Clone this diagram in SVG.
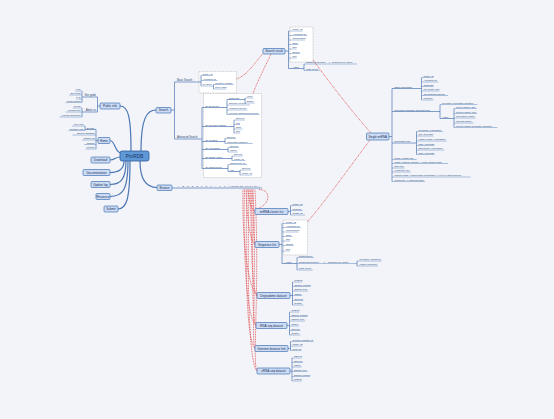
<svg xmlns="http://www.w3.org/2000/svg" width="554" height="419" viewBox="0 0 554 419">
<style>
.bg{fill:#f3f4f9}
.n rect{fill:#cddcf3;stroke:#4373b5;stroke-width:.7}
.n text{font-family:"Liberation Sans",Arial,sans-serif;font-size:3px;fill:#1a3262;text-anchor:middle}
.c rect{fill:#5e98d6;stroke:#2e5d9a;stroke-width:.8}
.c text{font-size:4.6px}
text{font-family:"Liberation Sans",Arial,sans-serif;font-size:2.3px;fill:#223f6e}
.r{text-anchor:end}
.p{font-size:2.6px}
.m{fill:none;stroke:#4a76b3;stroke-width:1.2}
.s{fill:none;stroke:#4a76b3;stroke-width:.7}
.u{fill:none;stroke:#5f87c0;stroke-width:.5}
.red{fill:none;stroke:#de4545;stroke-width:.75;stroke-dasharray:1 .7}
.box{fill:#fff;stroke:#a0a0a0;stroke-width:.45;stroke-dasharray:1 .6}
</style>
<rect class="bg" x="0" y="0" width="554" height="419"/>
<g id="dotted-boxes">
<rect class="box" x="199" y="71.5" width="37.5" height="21.5"/>
<rect class="box" x="203.5" y="93.5" width="58" height="84"/>
<rect class="box" x="290" y="27" width="23" height="35"/>
<rect class="box" x="283.5" y="220" width="24" height="35"/>
</g>
<g id="connectors">
<path class="m" d="M131,151C131,116 128,106 120,106M121,153C115,153 115,140.5 110,140.5M120,157C115,157 115,160 110,160M124,161C124,169 119,172.5 110,172.5M126,161C126,180 120,184.5 110,184.5M128,161C128,191 122,196.5 110,196.5M130,161C130,201 126,209 118,209M141,151C141,118 147,110 156,110M140,161C140,180 147,187.5 157,187.5"/>
<path class="s" d="M100,106H97.5M97.5,97V112M97.5,97H82M82,91V102.5M97.5,112H82M82,108V117"/>
<path class="u" d="M82,91H75.2M82,95H69.2M82,99H76.4M82,102.5H65.6M82,108H72.8M82,112H65.6M82,117H59.6"/>
<path class="s" d="M98,140.5H96M96,129.5V149M96,129.5H85M85,126V130.5"/>
<path class="u" d="M96,135H72.4M96,140H82M96,144.5H84.4M96,149H85.6M85,126H72.2M85,130.5H68.6"/>
<path class="s" d="M171,110H174.5M174.5,82V139M174.5,82H201M201,75.5V86M213.5,84.5V89M174.5,139H202M202,107.5V168.5"/>
<path class="u" d="M201,75.5H212.6M201,80.5H217.4M201,86H213.5M213.5,84.5H233.5M213.5,89H226.3"/>
<path class="s" d="M202,107.5H227M227,99.5V114.5M227,99.5H245M245,98V103M202,126.5H234M234,120V133M202,141.5H225M225,138.5V143.5M202,149.5H228M228,147.5V152M202,158.5H232M232,156V160.5M202,168.5H228M228,164.5V171.5M228,171.5H240M240,170V175"/>
<path class="u" d="M245,98H253.5M245,103H254.7M227,105H249.9M227,110H247.5M227,114.5H259.5M234,120H244.9M234,124.5H240.1M234,129H242.5M234,133H240.1M225,138.5H235.9M225,143.5H252.7M228,147.5H238.9M228,152H237.7M232,156H242.9M232,160.5H245.3M228,164.5H247.3M240,170H250.9M240,175H252.1"/>
<path class="s" d="M285,51H288.5M288.5,31V68.5M288.5,68.5H304M304,64V70.5"/>
<path class="u" d="M288.5,31H302.6M288.5,35.5H307.4M288.5,40H305M288.5,44.5H298.5M288.5,49H296.6M288.5,53.5H300.2M288.5,58H296.6M304,64H357M304,70.5H319.7"/>
<path class="s" d="M389,136.5H392M392,88.5V181.5M392,88.5H421.5M421.5,77.5V100M392,111.5H440M440,104.5V118.5M440,118.5H454M454,108.5V127.5M392,143H416.5M416.5,131.5V154.5"/>
<path class="u" d="M421.5,77.5H433.6M421.5,82H438.4M421.5,86.5H433.6M421.5,91H439.6M421.5,95.5H448M421.5,100H433.6M440,104.5H477.3M454,108.5H476.9M454,113.5H476.9M454,118H475.7M454,123H473.3M454,127.5H497.3M416.5,131.5H443M416.5,136H433.4M416.5,141H446.6M416.5,145.5H434.6M416.5,150H444.2M416.5,154.5H434.6M392,159.5H416.6M392,163.5H448M392,168H404.6M392,172H410.6M392,177H470.6M392,181.5H425"/>
<path class="s" d="M172,188H262"/>
<path class="s" d="M288,211.5H290.5M290.5,205.5V215M279,244.5H282M282,223.5V263.5M282,263.5H297M297,257.5V270M357,261V266M290,295.5H292.5M292.5,282V305M287,325.5H289.5M289.5,312V335M288,348.5H290.5M290.5,341.5V350.5M290,371H292M292,358V381"/>
<path class="u" d="M290.5,205.5H302.6M290.5,210.5H302.6M290.5,215H305M282,223.5H296.1M282,227.5H300.9M282,232H298.5M282,236.5H292.5M282,241H290.1M282,245.5H293.7M282,251H290.1M297,257.5H313.9M297,263.5H357M297,270H312.7M357,261H381.6M357,266H378M292.5,282H302.2M292.5,286.5H310.6M292.5,291H308.2M292.5,295.5H302.2M292.5,300.5H303.4M292.5,305H303.4M289.5,312H299.2M289.5,316.5H307.6M289.5,321H305.2M289.5,326H299.2M289.5,330.5H300.4M289.5,335H300.4M290.5,341.5H313.4M290.5,346H302.6M290.5,350.5H301.4M292,358H301.7M292,362.5H302.9M292,367H301.7M292,371.5H307.7M292,376.5H310.1M292,381H301.7"/>
<path class="red" d="M236.5,79C248,75 255,62 264,52.5M253,93.5C258,80 266,65 271,54M313,60C335,90 355,115 371,133M307.5,222C330,195 355,160 370,140"/>
<path class="red" d="M259,189.5C272,190 270,204 258,208.5M248,189.5C249,200 250,208 255,211.5M246,189.5C247,215 249,238 255,244.5M252,189.5C254,215 253,238 255,244.5M243,189.5C242,240 248,288 257,295.5M250,189.5C252,240 251,288 257,295.5M244.5,189.5C243,260 247,318 256,325.5M251,189.5C254,260 251,318 256,325.5M247,189.5C245,280 247,340 255,348.5M253,189.5C257,280 251,340 255,348.5M249,189.5C247,290 249,362 257,371M255,189.5C260,290 252,362 257,371"/>
</g>
<g id="center" class="n c"><rect x="120" y="151" width="29" height="10" rx="2"/><text x="134.5" y="157.7">PmiRDB</text></g>
<g id="public-info">
<g class="n"><rect x="100" y="103" width="20" height="6" rx="1"/><text x="110" y="107.1">Public info</text></g>
<text class="r p" x="96" y="96.4">Site guide</text>
<text class="r" x="80.5" y="90.4">Help</text><text class="r" x="80.5" y="94.4">Bio terms</text><text class="r" x="80.5" y="98.4">FAQ</text><text class="r" x="80.5" y="101.9">Quick search</text>
<text class="r p" x="96" y="111.4">About us</text>
<text class="r" x="80.5" y="107.4">E-mail</text><text class="r" x="80.5" y="111.4">Contact info</text><text class="r" x="80.5" y="116.4">License statement</text>
</g>
<g id="home">
<g class="n"><rect x="98" y="137.5" width="12" height="6" rx="1"/><text x="104" y="141.6">Home</text></g>
<text class="r" x="94.5" y="128.9">Browse</text>
<text class="r" x="83.5" y="125.4">Text view</text><text class="r" x="83.5" y="129.9">Network view</text>
<text class="r" x="94.5" y="134.4">Species statistics</text><text class="r" x="94.5" y="139.4">Update log</text><text class="r" x="94.5" y="143.9">Citation</text><text class="r" x="94.5" y="148.4">License</text>
</g>
<g id="download" class="n"><rect x="91" y="157" width="19" height="6" rx="1"/><text x="100.5" y="161.1">Download</text></g>
<g id="documentation" class="n"><rect x="83" y="169.5" width="27" height="6" rx="1"/><text x="96.5" y="173.6">Documentation</text></g>
<g id="update-log" class="n"><rect x="91" y="181.5" width="19" height="6" rx="1"/><text x="100.5" y="185.6">Update log</text></g>
<g id="resource" class="n"><rect x="96" y="193.5" width="14" height="6" rx="1"/><text x="103" y="197.6">Resource</text></g>
<g id="submit" class="n"><rect x="104" y="206" width="14" height="6" rx="1"/><text x="111" y="210.1">Submit</text></g>
<g id="search">
<g class="n"><rect x="156" y="107.5" width="15" height="5.5" rx="1"/><text x="163.5" y="111.3">Search</text></g>
<text class="p" x="177" y="81.3">Basic Search</text>
<text x="202.5" y="74.9">miRNA ID</text><text x="202.5" y="79.9">Accession ID</text><text x="202.5" y="85.4">Keyword</text>
<text x="215" y="83.9">Genome location</text><text x="215" y="88.4">Gene name</text>
<text class="p" x="177" y="138.3">Advanced Search</text>
<text x="205.5" y="106.9">By Sequence</text>
<text x="229" y="98.9">Sequence</text><text x="247" y="97.4">Input</text><text x="247" y="102.4">Blastn</text>
<text x="229" y="104.4">Similarity search</text><text x="229" y="109.4">Fragment search</text><text x="229" y="113.9">Reverse complement search</text>
<text x="205.5" y="125.9">By genomic location</text>
<text x="236" y="119.4">Species</text><text x="236" y="123.9">Chr</text><text x="236" y="128.4">Start</text><text x="236" y="132.4">End</text>
<text x="205.5" y="140.9">By Clusters</text>
<text x="227" y="137.9">Species</text><text x="227" y="142.9">Intercluster distance</text>
<text x="205.5" y="148.9">By expression</text>
<text x="230" y="146.9">Species</text><text x="230" y="151.4">Tissue</text>
<text x="205.5" y="157.9">By miRNA family</text>
<text x="234" y="155.4">Species</text><text x="234" y="159.9">Family ID</text>
<text x="205.5" y="167.9">By target genes</text>
<text x="230" y="163.9">Target gene ID</text><text x="230" y="170.9">List</text>
<text x="242" y="169.4">Species</text><text x="242" y="174.4">miRNA ID</text>
</g>
<g id="search-result">
<g class="n"><rect x="263" y="48.5" width="22" height="5.5" rx="1"/><text x="274" y="52.3">Search result</text></g>
<text x="292.5" y="30.4">miRNA ID</text><text x="292.5" y="34.9">Accession ID</text><text x="292.5" y="39.4">Chromosome</text><text x="292.5" y="43.9">Start</text><text x="292.5" y="48.4">End</text><text x="292.5" y="52.9">Strand</text><text x="292.5" y="57.4">Seq</text>
<text x="292.5" y="67.9">Action</text>
<text x="306" y="63.4">Download selected</text><text x="328" y="63.4">→</text><text x="332" y="63.4">sequence file action</text>
<text x="306" y="69.9">Page select</text>
</g>
<g id="single-mirna">
<g class="n"><rect x="366.5" y="133" width="22.5" height="7" rx="1"/><text x="377.75" y="137.6">Single miRNA</text></g>
<text x="394.5" y="87.9">Basic information</text>
<text x="423.5" y="76.9">miRNA ID</text><text x="423.5" y="81.4">Accession ID</text><text x="423.5" y="85.9">Organism</text><text x="423.5" y="90.4">Pre-miRNA seq</text><text x="423.5" y="94.9">Chr Start End Strand</text><text x="423.5" y="99.4">Location</text>
<text x="394.5" y="110.9">Secondary structure and sequence</text>
<text x="442" y="103.9">Pri-miRNA secondary structure</text><text x="442" y="117.9">Action</text>
<text x="456" y="107.9">Get pri-miRNA seq</text><text x="456" y="112.9">Get pre-miRNA seq</text><text x="456" y="117.4">Get mature miRNA</text><text x="456" y="122.4">Get star miRNA</text><text x="456" y="126.9">Get the mature secondary structure</text>
<text x="394.5" y="142.4">Expression info</text>
<text x="418.5" y="130.9">Pri-miRNA expression</text><text x="418.5" y="135.4">RNA-seq data</text><text x="418.5" y="140.4">Mature miRNA expression</text><text x="418.5" y="144.9">sRNA-seq data</text><text x="418.5" y="149.4">Star miRNA expression</text><text x="418.5" y="153.9">sRNA-seq data</text>
<text x="394.5" y="158.9">miRNA cluster info</text>
<text x="394.5" y="162.9">miRNA isoform (isomiR) → other isomiR result</text>
<text x="394.5" y="167.4">SNP info</text>
<text x="394.5" y="171.4">Homology info</text>
<text x="394.5" y="176.4">Natural miRNA conservation information → Level in other species</text>
<text x="394.5" y="180.9">Reference → PubMed result</text>
</g>
<g id="browse">
<g class="n"><rect x="157" y="185" width="15" height="5.5" rx="1"/><text x="164.5" y="188.8">Browse</text></g>
<text x="178" y="187.3">A</text><text x="182.6" y="187.3">B</text><text x="187.2" y="187.3">C</text><text x="191.8" y="187.3">D</text><text x="196.4" y="187.3">E</text><text x="201" y="187.3">F</text><text x="205.6" y="187.3">G</text><text x="210.2" y="187.3">H</text><text x="214.8" y="187.3">I</text><text x="219.4" y="187.3">J</text><text x="224" y="187.3">K</text><text x="228.6" y="187.3">L</text>
<text x="231" y="187.3">M</text><text x="233.1" y="187.3">N</text><text x="235.2" y="187.3">O</text><text x="237.3" y="187.3">P</text><text x="239.4" y="187.3">Q</text><text x="241.5" y="187.3">R</text>
<text x="245" y="187.3">S</text><text x="247.2" y="187.3">T</text><text x="249.4" y="187.3">U</text><text x="251.6" y="187.3">V</text><text x="253.8" y="187.3">W</text><text x="256" y="187.3">X</text><text x="258.2" y="187.3">Y</text>
</g>
<g id="mirna-cluster-list">
<g class="n"><rect x="255" y="208.5" width="33" height="6" rx="1"/><text x="271.5" y="212.6">miRNA cluster list</text></g>
<text x="292.5" y="204.9">miRNA ID</text><text x="292.5" y="209.9">Location</text><text x="292.5" y="214.4">Cluster ID</text>
</g>
<g id="sequence-list">
<g class="n"><rect x="255" y="241.5" width="24" height="6" rx="1"/><text x="267" y="245.6">Sequence list</text></g>
<text x="286" y="222.9">miRNA ID</text><text x="286" y="226.9">Accession ID</text><text x="286" y="231.4">Chromosome</text><text x="286" y="235.9">Start</text><text x="286" y="240.4">End</text><text x="286" y="244.9">Strand</text><text x="286" y="250.4">Seq</text>
<text x="285" y="262.9">Action</text>
<text x="299" y="256.9">Download all</text>
<text x="299" y="262.9">Download selected</text><text x="323" y="262.9">→</text><text x="328" y="262.9">sequence file action</text>
<text x="359.5" y="260.4">Pri-miRNA sequence</text><text x="359.5" y="265.4">Mature sequence</text>
<text x="299" y="269.4">Page select</text>
</g>
<g id="degradome-dataset">
<g class="n"><rect x="257" y="292.5" width="33" height="6" rx="1"/><text x="273.5" y="296.6">Degradome dataset</text></g>
<text x="294.5" y="281.4">NGB ID</text><text x="294.5" y="285.9">Sample number</text><text x="294.5" y="290.4">Sample type</text><text x="294.5" y="294.9">Tissue</text><text x="294.5" y="299.9">Species</text><text x="294.5" y="304.4">Details</text>
</g>
<g id="rna-seq-dataset">
<g class="n"><rect x="256" y="322.5" width="31" height="6" rx="1"/><text x="271.5" y="326.6">RNA-seq dataset</text></g>
<text x="291.5" y="311.4">NGB ID</text><text x="291.5" y="315.9">Sample number</text><text x="291.5" y="320.4">Sample type</text><text x="291.5" y="325.4">Tissue</text><text x="291.5" y="329.9">Species</text><text x="291.5" y="334.4">Details</text>
</g>
<g id="genome-browser-link">
<g class="n"><rect x="255" y="345.5" width="33" height="6" rx="1"/><text x="271.5" y="349.6">Genome browser link</text></g>
<text x="292.5" y="340.9">Genome browser ID</text><text x="292.5" y="345.4">miRNA ID</text><text x="292.5" y="349.9">Gene ID</text>
</g>
<g id="srna-seq-dataset">
<g class="n"><rect x="257" y="368" width="33" height="6" rx="1"/><text x="273.5" y="372.1">sRNA-seq dataset</text></g>
<text x="294" y="357.4">GEO ID</text><text x="294" y="361.9">Species</text><text x="294" y="366.4">Tissue</text><text x="294" y="370.9">Sample type</text><text x="294" y="375.9">Sample number</text><text x="294" y="380.4">NGB ID</text>
</g>
</svg>
